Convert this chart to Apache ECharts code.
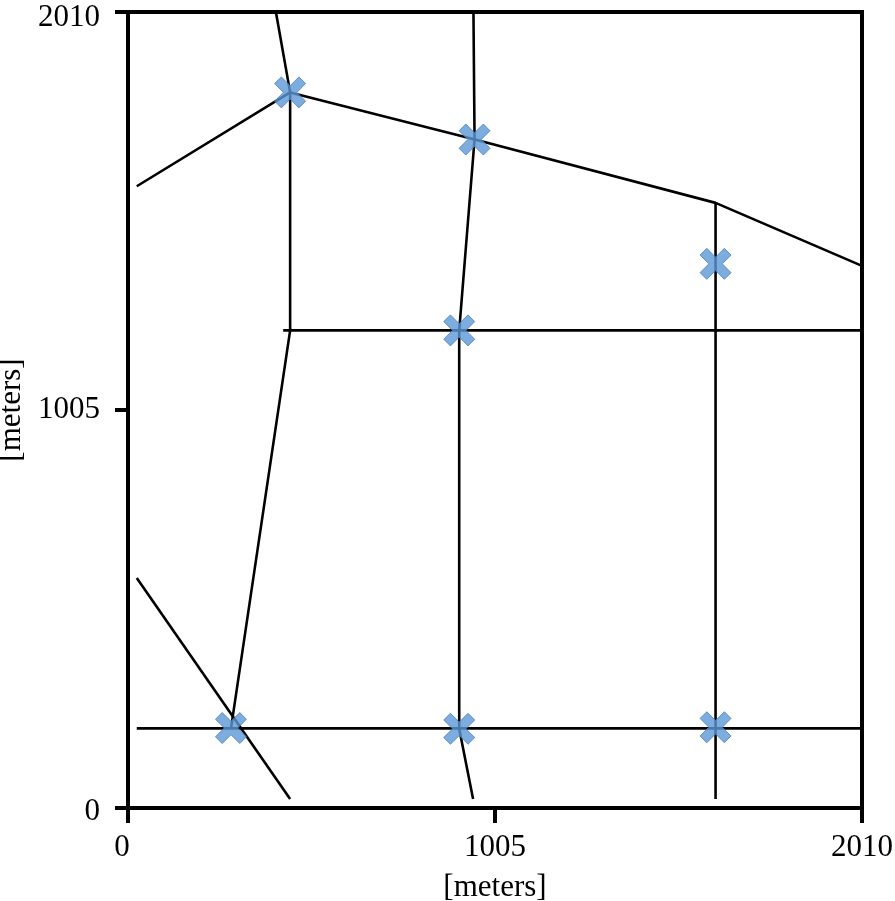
<!DOCTYPE html>
<html>
<head>
<meta charset="utf-8">
<script src="https://cdn.jsdelivr.net/npm/echarts@6/dist/echarts.min.js"></script>
<style>html,body{margin:0;padding:0;background:#fff}#c{width:895px;height:901px}</style>
</head>
<body>
<div id="c"></div>
<script>
// Axis ticks (meters)
const axisMin = 0;
const axisMax = 2010;
const tickStep = 1005;
const axisName = '[meters]';

// Polylines (x, y in meters)
const upperBoundary = [[24,1570],[444,1807],[950,1688],[1609,1528],[2010,1369]];
const topLeftLink = [[405,2010],[444,1807]];
const leftRoute = [[444,1807],[444,1206],[282,201]];
const middleRow = [[425,1206],[2010,1206]];
const centerRoute = [[946,2010],[949,1688],[907,1206],[907,200],[945,23]];
const rightColumn = [[1609,1528],[1609,23]];
const bottomRow = [[24,201],[2010,201]];
const lowerDiagonal = [[24,581],[444,23]];

// Marker positions (x, y in meters)
const markers = [[444,1807],[949,1688],[1609,1374],[907,1206],[282,202],[907,200],[1609,204]];

const lines = [upperBoundary, topLeftLink, leftRoute, middleRow, centerRoute, rightColumn, bottomRow, lowerDiagonal];

const font = 'Liberation Serif';
const fs = 31;
const xPath = 'path://M0,6.5 L6.5,0 L15,8.5 L23.5,0 L30,6.5 L21.5,15 L30,23.5 L23.5,30 L15,21.5 L6.5,30 L0,23.5 L8.5,15 Z';

const series = lines.map(function (d) {
  return {
    type: 'line',
    data: d,
    symbol: 'none',
    lineStyle: { color: '#000', width: 2.6 },
    silent: true,
    z: 2
  };
});
series.push({
  type: 'scatter',
  data: markers,
  symbol: xPath,
  symbolSize: 31,
  itemStyle: { color: '#5d97d6', borderColor: '#4a80c2', borderWidth: 1 },
  z: 5
});

const yFmt = function (v) {
  if (v === axisMax) return '{t|' + v + '}';
  if (v === axisMin) return '{b|' + v + '}';
  return String(v);
};
const xFmt = function (v) {
  if (v === axisMin) return '{l|' + v + '}';
  return String(v);
};

const chart = echarts.init(document.getElementById('c'));
chart.setOption({
  animation: false,
  backgroundColor: '#fff',
  grid: {
    left: 128, right: 33, top: 12, bottom: 93,
    outerBoundsMode: 'none', containLabel: false,
    show: true, borderColor: '#000', borderWidth: 4
  },
  xAxis: {
    type: 'value', min: axisMin, max: axisMax, interval: tickStep,
    name: axisName, nameLocation: 'middle', nameGap: 64,
    nameTextStyle: { fontFamily: font, fontSize: fs, color: '#000' },
    axisLine: { show: true, lineStyle: { color: '#000', width: 4 } },
    axisTick: { show: true, length: 15, lineStyle: { color: '#000', width: 4 } },
    axisLabel: {
      fontFamily: font, fontSize: fs, color: '#000', margin: 24, formatter: xFmt,
      rich: { l: { fontFamily: font, fontSize: fs, color: '#000', padding: [0, 12, 0, 0] } }
    },
    splitLine: { show: false }
  },
  yAxis: {
    type: 'value', min: axisMin, max: axisMax, interval: tickStep,
    name: axisName, nameLocation: 'middle', nameGap: 90,
    nameTextStyle: { fontFamily: font, fontSize: fs, color: '#000' },
    axisLine: { show: true, lineStyle: { color: '#000', width: 4 } },
    axisTick: { show: true, length: 13, lineStyle: { color: '#000', width: 4 } },
    axisLabel: {
      fontFamily: font, fontSize: fs, color: '#000', margin: 28, formatter: yFmt,
      rich: {
        t: { fontFamily: font, fontSize: fs, color: '#000', padding: [12, 0, 0, 0] },
        b: { fontFamily: font, fontSize: fs, color: '#000', padding: [8, 0, 0, 0] }
      }
    },
    splitLine: { show: false }
  },
  series: series
});
</script>
</body>
</html>
